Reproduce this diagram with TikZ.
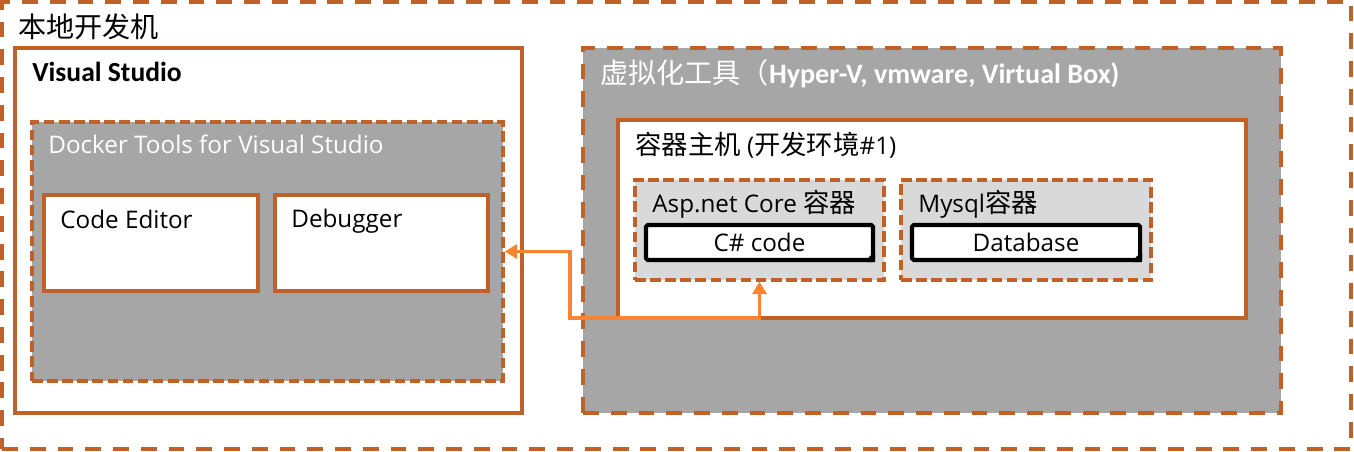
\documentclass[tikz,border=0pt]{standalone}
\usepackage{fontspec}
\setmainfont{Open Sans}
\newfontfamily\cjk{Noto Sans CJK SC}
\newfontfamily\calibri{Carlito}
\newcommand\zhtxt[1]{{\cjk\fontsize{15}{18}\selectfont #1}}
\usetikzlibrary{fit,arrows.meta}
\definecolor{boxorange}{RGB}{192,97,40}
\definecolor{arroworange}{RGB}{250,132,52}
\definecolor{vmgray}{RGB}{166,166,166}
\definecolor{ctgray}{RGB}{217,217,217}
\begin{document}
\begin{tikzpicture}[x=0.02cm, y=-0.02cm,
    solidbox/.style={draw=boxorange, line width=2pt, inner sep=0pt, fill=white},
    longdash/.style={draw=boxorange, line width=2pt, inner sep=0pt, dash pattern=on 9pt off 6.8pt},
    shortdash/.style={draw=boxorange, line width=2pt, inner sep=0pt, dash pattern=on 6pt off 2.6pt},
    codebox/.style={draw=black, line width=2.3pt, fill=white, rounded corners=1pt, inner sep=0pt},
    txt/.style={anchor=base west, inner sep=0pt, font=\fontsize{13.8}{16}\selectfont},
    boldtxt/.style={anchor=base west, inner sep=0pt, font=\fontsize{15.7}{18}\selectfont\calibri\bfseries},
    flow/.style={draw=arroworange, line width=2.2pt, {Triangle[length=7pt,width=8pt]}-{Triangle[length=7pt,width=8pt]}}
    ]
    \useasboundingbox (0,0) rectangle (1354,452);
    % local machine
    \node[longdash, fit={(2,2) (1351,449)}] (machine) {};
    \node[anchor=base west, inner sep=0pt, font=\fontsize{16}{18}\selectfont\cjk] (machinetxt) at (18,38) {本地开发机};
    % visual studio side
    \node[solidbox, fit={(15,48) (522,413)}] (vs) {};
    \node[boldtxt] (vstxt) at (32,82) {Visual Studio};
    \node[shortdash, fill=vmgray, fit={(32,122) (503,381)}] (docker) {};
    \node[txt, text=white] (dockertxt) at (48,154) {Docker Tools for Visual Studio};
    \node[solidbox, fit={(44,195) (258,291)}] (editor) {};
    \node[txt] (editortxt) at (60,229) {Code Editor};
    \node[solidbox, fit={(275,195) (488,291)}] (debugger) {};
    \node[txt] (debuggertxt) at (291,228) {Debugger};
    % virtualization side
    \node[longdash, fill=vmgray, fit={(583,48) (1281,413)}] (vm) {};
    \node[anchor=base west, inner sep=0pt, text=white] (vmtxt) at (600,84)
        {{\cjk\fontsize{16}{18}\selectfont 虚拟化工具（}{\fontsize{16}{18}\selectfont\calibri\bfseries Hyper-V, vmware, Virtual Box)}};
    \node[solidbox, fit={(618,120) (1246,318)}] (host) {};
    \node[txt] (hosttxt) at (635,155) {\zhtxt{容器主机} (\zhtxt{开发环境}\#1)};
    \node[shortdash, fill=ctgray, fit={(635,180) (884,280)}] (asp) {};
    \node[txt] (asptxt) at (652,213) {Asp.net Core \zhtxt{容器}};
    \node[codebox, fit={(646,225) (873,260)}] (code) {};
    \node[font=\fontsize{13.8}{16}\selectfont] (codetxt) at (code.center) {C\# code};
    \node[shortdash, fill=ctgray, fit={(901,180) (1151,280)}] (mysql) {};
    \node[txt] (mysqltxt) at (918,213) {Mysql\zhtxt{容器}};
    \node[codebox, fit={(912,225) (1140,260)}] (db) {};
    \node[font=\fontsize{13.8}{16}\selectfont] (dbtxt) at (db.center) {Database};
    % folded corners
    \fill (code.south east) ++(-0.17cm,0) to[bend left=30] ++(0.17cm,0.17cm) -- ++(0,-0.17cm) -- cycle;
    \fill (db.south east) ++(-0.17cm,0) to[bend left=30] ++(0.17cm,0.17cm) -- ++(0,-0.17cm) -- cycle;
    % debug link
    \coordinate (turn) at (570,318);
    \draw[flow] (docker.east) -| (turn) -| (asp.south);
\end{tikzpicture}
\end{document}
